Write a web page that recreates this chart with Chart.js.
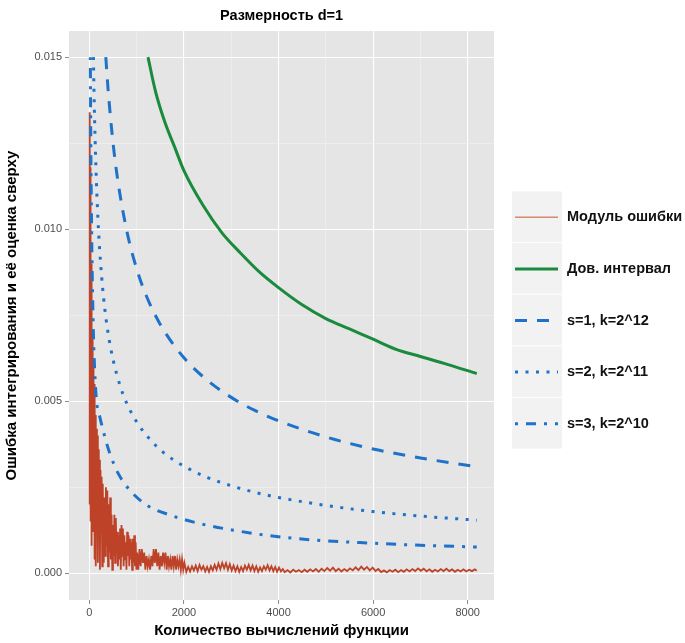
<!DOCTYPE html>
<html><head><meta charset="utf-8">
<script src="https://cdn.jsdelivr.net/npm/chart.js@4.4.0/dist/chart.umd.min.js"></script>
<style>html,body{margin:0;padding:0;background:#fff;} canvas{display:block;}</style>
</head><body>
<canvas id="c" width="685" height="643"></canvas>
<script>
const chartTitle = 'Размерность d=1';
const xAxisTitle = 'Количество вычислений функции';
const yAxisTitle = 'Ошибка интегрирования и её оценка сверху';
const seriesNames = ['Модуль ошибки', 'Дов. интервал', 's=1, k=2^12', 's=2, k=2^11', 's=3, k=2^10'];

// Модуль ошибки
const redX = [1,4,8,12,16,20,24,28,32,36,40,44,48,52,56,60,64,68,72,76,80,
  85,92,100,108,116,124,132,140,150,160,170,180,190,200,212,224,236,248,260,272,284,296,
  305,320,335,350,365,380,395,410,425,440,455,470,485,500,515,530,545,560,575,590,605,620,635,650,665,680,695,710,725,740,755,770,785,800,815,830,845,860,875,890,905,920,935,950,965,980,995,
  1010,1035,1060,1085,1110,1135,1160,1185,1210,1235,1260,1285,1310,1335,1360,1385,1410,1435,1460,1485,1510,1535,1560,1585,1610,1635,1660,1685,1710,1735,1760,1785,1810,1835,1860,1885,1910,1935,1960,1985,2010,
  2050,2090,2130,2170,2210,2250,2290,2330,2370,2410,2450,2490,2530,2570,2610,2650,2690,2730,2770,2810,2850,2890,2930,2970,3010,3050,3090,3130,3170,3210,3250,3290,3330,3370,3410,3450,3490,3530,3570,3610,3650,3690,3730,3770,3810,3850,3890,3930,3970,4010,4050,4090,
  4130,4190,4250,4310,4370,4430,4490,4550,4610,4670,4730,4790,4850,4910,4970,5030,5090,5150,5210,5270,5330,5390,5450,5510,5570,5630,5690,5750,5810,5870,5930,5990,6050,6110,6170,6230,6290,6350,6410,6470,6530,6590,6650,6710,6770,6830,6890,6950,7010,7070,7130,7190,7250,7310,7370,7430,7490,7550,7610,7670,7730,7790,7850,7910,7970,8030,8090,8150,8192];
const redY = [0.0020,0.0095,0.0030,0.0134,0.0060,0.0118,0.0015,0.0105,0.0040,0.0090,0.0008,0.0085,0.0030,0.0075,0.0010,0.0068,0.0025,0.0062,0.0012,0.0058,0.0020,
  0.0060,0.0012,0.0055,0.0004,0.0050,0.0020,0.0046,0.0002,0.0042,0.0015,0.0040,0.0003,0.0036,0.0010,0.0033,0.0001,0.0030,0.0012,0.0028,0.0002,0.0026,0.0008,
  0.0003,0.0022,0.0005,0.0025,0.0008,0.0024,0.0002,0.0020,0.0006,0.0022,0.0004,0.0017,0.0001,0.0014,0.0005,0.0017,0.0003,0.0016,0.0006,0.0012,0.0002,0.0011,0.0004,0.0013,0.0001,0.0014,0.0005,0.0013,0.0002,0.0011,0.0004,0.0009,0.0001,0.0012,0.0005,0.0011,0.0002,0.0010,0.0004,0.0009,0.0001,0.0010,0.0003,0.0011,0.0002,0.0009,0.0001,
  0.0006,0.0001,0.0007,0.0002,0.0007,0.0003,0.0006,0.0001,0.0005,0.0002,0.0004,0.0001,0.0005,0.0002,0.0007,0.0003,0.0007,0.0002,0.0006,0.0001,0.0005,0.0002,0.0006,0.0003,0.0006,0.0001,0.0005,0.0002,0.0004,0.0001,0.0005,0.0002,0.0005,0.0001,0.0004,0.0002,0.0004,0.0001,0.0004,0.0001,0.0003,
  0.00004,0.00018,0.00005,0.0002,0.00008,0.00022,0.00006,0.00024,0.0001,0.0002,0.00005,0.00018,0.00004,0.0002,0.00008,0.00024,0.0001,0.00028,0.00012,0.0003,0.00014,0.00029,0.0001,0.00026,0.00008,0.00022,0.00006,0.0002,0.00004,0.00018,0.00006,0.00022,0.0001,0.00024,0.00008,0.00022,0.00006,0.0002,0.00004,0.00017,0.00006,0.0002,0.0001,0.00023,0.00008,0.0002,0.00006,0.00018,0.00004,0.00016,0.00005,0.00012,
  0.00003,0.00009,0.00002,0.0001,0.00004,0.00009,0.00003,0.0001,0.00004,0.00011,0.00005,0.00012,0.00004,0.00013,0.00006,0.00015,0.00007,0.00016,0.00006,0.00013,0.00005,0.00012,0.00006,0.00014,0.00008,0.00017,0.00009,0.00019,0.0001,0.00018,0.00008,0.00016,0.00006,0.00012,0.00003,0.00008,0.00002,0.00009,0.00004,0.0001,0.00003,0.00009,0.00004,0.00011,0.00005,0.00012,0.00006,0.00014,0.00007,0.00013,0.00005,0.00011,0.00004,0.0001,0.00005,0.00012,0.00006,0.00013,0.00006,0.00011,0.00004,0.0001,0.00005,0.00011,0.00005,0.0001,0.00006,0.00011,0.00007];

// Дов. интервал
const greenX = [1240,1400,1600,1800,2000,2400,2800,3200,3600,4000,4500,5000,5500,6000,6500,7000,7500,8192];
const greenY = [0.0150,0.0140,0.0131,0.0124,0.0117,0.0107,0.0099,0.0093,0.00875,0.0083,0.0078,0.0074,0.0071,0.0068,0.0065,0.0063,0.0061,0.0058];

// s=1, k=2^12
const s1X = [348,400,500,600,800,1000,1200,1500,2000,2500,3000,3500,4000,5000,6000,7000,8192];
const s1Y = [0.0150,0.0140,0.01252,0.01143,0.0099,0.00885,0.00808,0.00723,0.00626,0.0056,0.00511,0.00473,0.00443,0.00396,0.00361,0.00335,0.00309];

// s=2, k=2^11
const s2X = [86,100,130,170,220,300,400,500,650,800,1000,1300,1600,2000,2500,3000,3500,4000,5000,6000,7000,8192];
const s2Y = [0.0150,0.0139,0.0122,0.01066,0.00937,0.00802,0.00695,0.00622,0.00545,0.00491,0.0044,0.00386,0.00347,0.00311,0.00278,0.00254,0.00235,0.0022,0.00197,0.00179,0.00166,0.00154];

// s=3, k=2^10
const s3X = [21,30,48,80,110,152,222,328,433,610,857,1210,1703,2337,3042,3748,4594,6000,7000,8192];
const s3Y = [0.0150,0.0127,0.0100,0.0073,0.0060,0.0050,0.00454,0.00396,0.00348,0.0029,0.00241,0.00198,0.00169,0.00144,0.00125,0.0011,0.00098,0.00087,0.00081,0.00076];

// grid / tick positions (major ones are labelled)
const xTickValues = [0, 1000, 2000, 3000, 4000, 5000, 6000, 7000, 8000];
const xTicksMajor = [0, 2000, 4000, 6000, 8000];
const yTickValues = [0, 0.0025, 0.005, 0.0075, 0.01, 0.0125, 0.015];
const yTicksMajor = [0.000, 0.005, 0.010, 0.015];

const FONT = '"Liberation Sans", Arial, Helvetica, sans-serif';
const RED = 'rgba(186,52,24,0.92)';
const RED_KEY = 'rgba(205,120,90,0.85)';
const GREEN = '#1a8a3c';
const BLUE = '#1f72c9';

const pts = (xs, ys) => xs.map((x, i) => ({x: x, y: ys[i]}));

const bgPlugin = {
  id: 'ggBg',
  beforeDraw(chart) {
    const {ctx, chartArea: a} = chart;
    ctx.save();
    ctx.fillStyle = '#ffffff';
    ctx.fillRect(0, 0, chart.width, chart.height);
    ctx.fillStyle = '#E5E5E5';
    ctx.fillRect(a.left, a.top, a.right - a.left, a.bottom - a.top);
    ctx.restore();
  }
};

const legendPlugin = {
  id: 'ggLegend',
  afterDraw(chart) {
    const {ctx, chartArea: a} = chart;
    const left = a.right + 18, keyW = 50, rowH = 51.6;
    const top = (a.top + a.bottom) / 2 - rowH * seriesNames.length / 2 + 5;
    ctx.save();
    seriesNames.forEach((name, i) => {
      const ds = chart.data.datasets[i];
      const y0 = top + i * rowH;
      ctx.fillStyle = '#F2F2F2';
      ctx.fillRect(left, y0, keyW, rowH - 1);
      const cy = y0 + rowH / 2;
      ctx.beginPath();
      ctx.setLineDash(ds.borderDash || []);
      ctx.lineCap = 'butt';
      ctx.lineWidth = i === 0 ? 1.6 : ds.borderWidth;
      ctx.strokeStyle = i === 0 ? RED_KEY : ds.borderColor;
      ctx.moveTo(left + 3, cy);
      ctx.lineTo(left + 46, cy);
      ctx.stroke();
      ctx.setLineDash([]);
      ctx.fillStyle = '#111';
      ctx.font = 'bold 14.5px ' + FONT;
      ctx.textBaseline = 'middle';
      ctx.textAlign = 'left';
      ctx.fillText(name, left + keyW + 5, cy);
    });
    ctx.restore();
  }
};

const isMajorX = v => xTicksMajor.some(t => Math.abs(t - v) < 1e-6);
const isMajorY = v => yTicksMajor.some(t => Math.abs(t - v) < 1e-9);

new Chart(document.getElementById('c'), {
  type: 'line',
  data: {
    datasets: [
      {label: seriesNames[0], data: pts(redX, redY), borderColor: RED, borderWidth: 1.8, pointRadius: 0, tension: 0, order: 5},
      {label: seriesNames[1], data: pts(greenX, greenY), borderColor: GREEN, borderWidth: 3, pointRadius: 0, cubicInterpolationMode: 'monotone', order: 1},
      {label: seriesNames[2], data: pts(s1X, s1Y), borderColor: BLUE, borderWidth: 3, borderDash: [12, 10], borderCapStyle: 'butt', pointRadius: 0, cubicInterpolationMode: 'monotone', order: 2},
      {label: seriesNames[3], data: pts(s2X, s2Y), borderColor: BLUE, borderWidth: 3, borderDash: [3, 7.5], borderCapStyle: 'butt', pointRadius: 0, cubicInterpolationMode: 'monotone', order: 3},
      {label: seriesNames[4], data: pts(s3X, s3Y), borderColor: BLUE, borderWidth: 3, borderDash: [3, 8, 10, 8], borderCapStyle: 'butt', pointRadius: 0, cubicInterpolationMode: 'monotone', order: 4}
    ]
  },
  options: {
    responsive: false,
    animation: false,
    devicePixelRatio: 1,
    layout: {padding: {top: 0, right: 191, bottom: 0, left: 0}},
    plugins: {
      legend: {display: false},
      tooltip: {enabled: false},
      title: {
        display: true, text: chartTitle, fullSize: false, color: '#000',
        font: {family: FONT, size: 14.5, weight: 'bold'},
        padding: {top: 7, bottom: 6.6}
      }
    },
    scales: {
      x: {
        type: 'linear', min: -430, max: 8556,
        border: {display: false},
        afterBuildTicks: s => { s.ticks = xTickValues.map(v => ({value: v})); },
        grid: {
          color: c => isMajorX(c.tick.value) ? '#ffffff' : '#F2F2F2',
          lineWidth: c => isMajorX(c.tick.value) ? 1.1 : 0.6,
          tickColor: c => isMajorX(c.tick.value) ? '#8a8a8a' : 'rgba(0,0,0,0)',
          tickLength: 4, tickWidth: 1
        },
        ticks: {
          autoSkip: false, maxRotation: 0,
          color: '#4d4d4d', font: {family: FONT, size: 11}, padding: 2,
          callback: v => isMajorX(v) ? String(v) : ''
        },
        title: {display: true, text: xAxisTitle, color: '#000', font: {family: FONT, size: 15, weight: 'bold'}, padding: {top: 0, bottom: 3}},
        afterFit: s => { s.height = 43; }
      },
      y: {
        type: 'linear', min: -0.00078, max: 0.01576,
        border: {display: false},
        afterBuildTicks: s => { s.ticks = yTickValues.map(v => ({value: v})); },
        grid: {
          color: c => isMajorY(c.tick.value) ? '#ffffff' : '#F2F2F2',
          lineWidth: c => isMajorY(c.tick.value) ? 1.1 : 0.6,
          tickColor: c => isMajorY(c.tick.value) ? '#8a8a8a' : 'rgba(0,0,0,0)',
          tickLength: 4, tickWidth: 1
        },
        ticks: {
          autoSkip: false,
          color: '#4d4d4d', font: {family: FONT, size: 11}, padding: 3,
          callback: v => isMajorY(v) ? v.toFixed(3) : ''
        },
        title: {display: true, text: yAxisTitle, color: '#000', font: {family: FONT, size: 15, weight: 'bold'}, padding: {top: 3, bottom: 0}},
        afterFit: s => { s.width = 69; }
      }
    }
  },
  plugins: [bgPlugin, legendPlugin]
});
</script>
</body></html>
